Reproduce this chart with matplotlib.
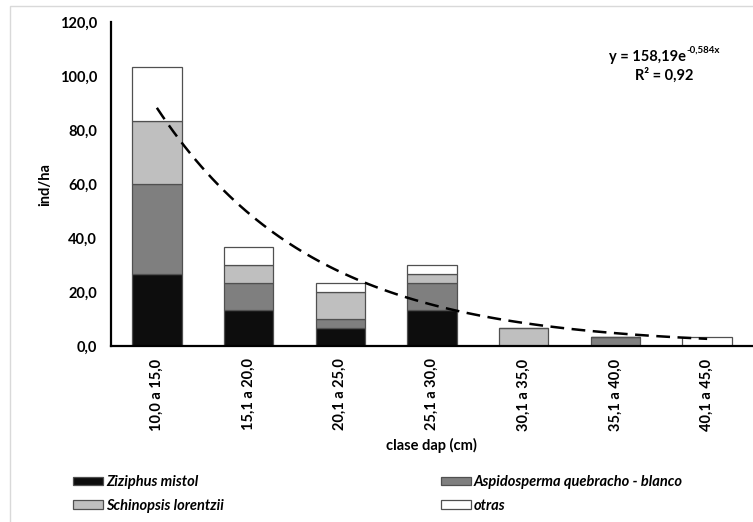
import numpy as np
import matplotlib
matplotlib.use("Agg")
import matplotlib.pyplot as plt
from matplotlib.patches import Rectangle

plt.rcParams['font.family'] = ['Lato', 'DejaVu Sans']
plt.rcParams['font.weight'] = 'bold'

# data (ind/ha per diameter class)
clases = ["10,0 a 15,0", "15,1 a 20,0", "20,1 a 25,0", "25,1 a 30,0",
          "30,1 a 35,0", "35,1 a 40,0", "40,1 a 45,0"]
ziziphus = [26.67, 13.33, 6.67, 13.33, 0, 0, 0]
aspidosperma = [33.33, 10.0, 3.33, 10.0, 0, 3.33, 0]
schinopsis = [23.33, 6.67, 10.0, 3.33, 6.67, 0, 0]
otras = [20.0, 6.67, 3.33, 3.33, 0, 0, 3.33]

series = ["Ziziphus mistol", "Aspidosperma quebracho - blanco",
          "Schinopsis lorentzii", "otras"]
colores = ["#0d0d0d", "#7f7f7f", "#bfbfbf", "#ffffff"]

# exponential trend (from the chart equation)
coef_a = 158.19
coef_b = -0.584

fs = 10.5
fig = plt.figure(figsize=(7.53, 5.22), dpi=100)
ax = fig.add_axes([111/753, 1 - 346/522, 1 - 111/753, (346 - 22)/522])

x = np.arange(len(clases))
bottom = np.zeros(len(clases))
handles = []
for vals, name, col in zip([ziziphus, aspidosperma, schinopsis, otras], series, colores):
    b = ax.bar(x, vals, width=0.54, bottom=bottom, color=col,
               edgecolor="#505050", linewidth=0.9, label=name, zorder=2)
    handles.append(b)
    bottom += np.array(vals)

xt = np.linspace(1, len(clases), 100)
ax.plot(xt - 1, coef_a * np.exp(coef_b * xt), color="black", lw=1.8,
        linestyle=(0, (5.5, 3)), zorder=3)

ax.set_xlim(-0.5, len(clases) - 0.5)
ax.set_ylim(0, 120)
ax.set_yticks(np.arange(0, 121, 20))
ax.set_yticklabels([f"{v:.1f}".replace(".", ",") for v in np.arange(0, 121, 20)],
                   fontsize=fs, fontweight="bold")
ax.set_xticks(x)
ax.set_xticklabels(clases, rotation=90, fontsize=fs, fontweight="bold")
ax.tick_params(axis="y", length=0, pad=10)
ax.tick_params(axis="x", length=0, pad=9)
for s in ["top", "right"]:
    ax.spines[s].set_visible(False)
for s in ["left", "bottom"]:
    ax.spines[s].set_linewidth(1.6)
    ax.spines[s].set_color("black")

fig.text(431/753, 1 - 445/522, "clase dap (cm)", ha="center", va="center",
         fontsize=fs, fontweight="bold")
fig.text(45/753, 1 - 185/522, "ind/ha", ha="center", va="center",
         rotation=90, fontsize=fs, fontweight="bold")

# equation
t1 = fig.text(686/753, 1 - 57/522, "y = 158,19e", ha="right", va="center",
              fontsize=fs, fontweight="bold")
ax.annotate("-0,584x", xy=(1, 0.7), xycoords=t1, ha="left", va="bottom",
            fontsize=7, fontweight="bold")
fig.text(664/753, 1 - 75/522, "R² = 0,92", ha="center", va="center",
         fontsize=fs, fontweight="bold")

# legend in two columns
pfs = fs * 100 / 72
for idx, xpos in [([0, 2], 73), ([1, 3], 441)]:
    leg = fig.legend([handles[i] for i in idx], [series[i] for i in idx],
                     loc="center left", bbox_to_anchor=(xpos/753, 1 - 494/522),
                     frameon=False, borderpad=0, borderaxespad=0,
                     handlelength=30/pfs, handleheight=8/pfs,
                     handletextpad=3/pfs, labelspacing=0.65,
                     prop={"size": fs, "weight": "bold", "style": "italic"})

# light chart border
fig.patches.append(Rectangle((10/753, -0.1), 2, 1.1 - 6/522, fill=False,
                             edgecolor="#d9d9d9", linewidth=1,
                             transform=fig.transFigure, figure=fig))

fig.savefig("out.png", dpi=100)
